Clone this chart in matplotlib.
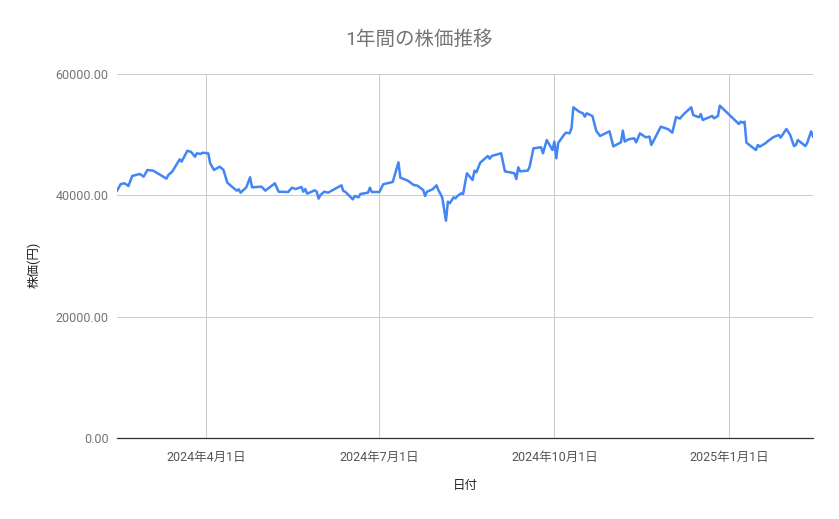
import numpy as np
import pandas as pd
import matplotlib
matplotlib.use("Agg")
import matplotlib.pyplot as plt
import matplotlib.dates as mdates

plt.rcParams['font.family'] = ['Roboto', 'Noto Sans CJK JP', 'DejaVu Sans']

# data
dates = [
    "2024-02-14", "2024-02-16", "2024-02-18", "2024-02-20", "2024-02-22", "2024-02-26",
    "2024-02-28", "2024-03-01", "2024-03-04", "2024-03-07", "2024-03-11", "2024-03-12",
    "2024-03-14", "2024-03-18", "2024-03-19", "2024-03-22", "2024-03-24", "2024-03-26",
    "2024-03-27", "2024-03-29", "2024-03-30", "2024-04-02", "2024-04-03", "2024-04-05",
    "2024-04-08", "2024-04-10", "2024-04-12", "2024-04-14", "2024-04-17", "2024-04-18",
    "2024-04-19", "2024-04-22", "2024-04-24", "2024-04-25", "2024-04-30", "2024-05-02",
    "2024-05-07", "2024-05-09", "2024-05-14", "2024-05-16", "2024-05-18", "2024-05-21",
    "2024-05-22", "2024-05-23", "2024-05-24", "2024-05-28", "2024-05-29", "2024-05-30",
    "2024-05-31", "2024-06-02", "2024-06-04", "2024-06-11", "2024-06-12", "2024-06-13",
    "2024-06-17", "2024-06-18", "2024-06-20", "2024-06-21", "2024-06-25", "2024-06-26",
    "2024-06-27", "2024-07-01", "2024-07-03", "2024-07-05", "2024-07-08", "2024-07-11",
    "2024-07-12", "2024-07-16", "2024-07-19", "2024-07-21", "2024-07-24", "2024-07-25",
    "2024-07-26", "2024-07-29", "2024-07-31", "2024-08-01", "2024-08-03", "2024-08-05",
    "2024-08-06", "2024-08-07", "2024-08-09", "2024-08-10", "2024-08-11", "2024-08-13",
    "2024-08-14", "2024-08-16", "2024-08-19", "2024-08-20", "2024-08-21", "2024-08-23",
    "2024-08-27", "2024-08-28", "2024-08-29", "2024-09-03", "2024-09-05", "2024-09-10",
    "2024-09-11", "2024-09-12", "2024-09-13", "2024-09-17", "2024-09-18", "2024-09-20",
    "2024-09-24", "2024-09-25", "2024-09-27", "2024-09-30", "2024-10-01", "2024-10-02",
    "2024-10-03", "2024-10-06", "2024-10-07", "2024-10-09", "2024-10-10", "2024-10-11",
    "2024-10-14", "2024-10-16", "2024-10-17", "2024-10-18", "2024-10-21", "2024-10-23",
    "2024-10-25", "2024-10-30", "2024-11-01", "2024-11-05", "2024-11-06", "2024-11-07",
    "2024-11-09", "2024-11-12", "2024-11-13", "2024-11-15", "2024-11-18", "2024-11-20",
    "2024-11-21", "2024-11-26", "2024-11-30", "2024-12-02", "2024-12-04", "2024-12-06",
    "2024-12-08", "2024-12-12", "2024-12-13", "2024-12-16", "2024-12-17", "2024-12-18",
    "2024-12-23", "2024-12-24", "2024-12-26", "2024-12-27", "2025-01-06", "2025-01-07",
    "2025-01-08", "2025-01-09", "2025-01-10", "2025-01-15", "2025-01-16", "2025-01-17",
    "2025-01-20", "2025-01-21", "2025-01-24", "2025-01-27", "2025-01-28", "2025-01-31",
    "2025-02-02", "2025-02-04", "2025-02-05", "2025-02-06", "2025-02-10", "2025-02-11",
    "2025-02-13", "2025-02-14",
]
prices = [
    40770, 41870, 41980, 41540, 43190, 43520,
    43080, 44180, 44070, 43520, 42750, 43350,
    43900, 45940, 45550, 47360, 47140, 46370,
    46930, 46820, 47030, 46930, 45280, 44180,
    44730, 44180, 42090, 41540, 40770, 41000,
    40440, 41320, 42970, 41320, 41430, 40770,
    41980, 40600, 40550, 41260, 41040, 41375,
    40600, 41040, 40275, 40830, 40600, 39450,
    40055, 40600, 40440, 41650, 40715, 40600,
    39340, 39890, 39670, 40220, 40440, 41260,
    40550, 40550, 41820, 41980, 42200, 45440,
    42910, 42410, 41700, 41590, 40880, 39890,
    40600, 41000, 41650, 40880, 39670, 35820,
    38950, 38700, 39670, 39505, 39890, 40330,
    40220, 43630, 42530, 44070, 43800, 45380,
    46480, 46040, 46480, 46930, 43960, 43630,
    42690, 44620, 43960, 44070, 44730, 47750,
    47920, 46930, 49120, 47470, 48860, 46100,
    48630, 49950, 50330, 50220, 51050, 54510,
    53790, 53520, 52970, 53520, 53080, 50660,
    49780, 50550, 48070, 48740, 50660, 48860,
    49240, 49400, 48740, 50220, 49570, 49670,
    48300, 51320, 50880, 50330, 52900, 52650,
    53380, 54510, 53240, 52860, 53410, 52420,
    53080, 52700, 53080, 54780, 51760, 52140,
    51990, 52140, 48680, 47470, 48300, 48020,
    48580, 48860, 49570, 49950, 49510, 50940,
    49950, 48130, 48300, 49120, 48130, 48680,
    50550, 49670,
]
y_ticks = [0, 20000, 40000, 60000]

x = pd.to_datetime(dates)

fig = plt.figure(figsize=(8.39, 5.19), dpi=100)
ax = fig.add_axes([117 / 839, 81 / 519, 696 / 839, 364 / 519])

ax.plot(x, prices, color='#4285F4', linewidth=1.8, solid_joinstyle='round')

ax.set_xlim(pd.Timestamp("2024-02-14"), pd.Timestamp("2025-02-14"))
ax.set_ylim(0, 60000)
ax.set_yticks(y_ticks)
ax.yaxis.set_major_formatter(plt.FuncFormatter(lambda v, p: f"{v:.2f}"))

ax.xaxis.set_major_locator(mdates.MonthLocator(bymonth=[1, 4, 7, 10]))
ax.xaxis.set_major_formatter(
    plt.FuncFormatter(lambda v, p: "{0.year}年{0.month}月{0.day}日".format(mdates.num2date(v))))

ax.grid(True, color='#cccccc', linewidth=0.75)
ax.set_axisbelow(True)
for s in ['top', 'right', 'left']:
    ax.spines[s].set_visible(False)
ax.spines['bottom'].set_color('#333333')
ax.spines['bottom'].set_linewidth(0.9)
ax.tick_params(axis='both', length=0, labelsize=9)
ax.tick_params(axis='y', colors='#757575', pad=6)
ax.tick_params(axis='x', colors='#555555', pad=9)

# title is centred on the whole figure, axis title on the plot area
fig.text(0.5, 1 - 40 / 519, "1年間の株価推移", ha='center', va='center',
         fontsize=14, color='#757575')
fig.text(465 / 839, 1 - 486 / 519, "日付", ha='center', va='center',
         fontsize=9, color='#222222')
fig.text(34 / 839, 1 - 265 / 519, "株価(円)", ha='center', va='center',
         rotation=90, fontsize=9, color='#222222')

fig.savefig("out.png", dpi=100)
